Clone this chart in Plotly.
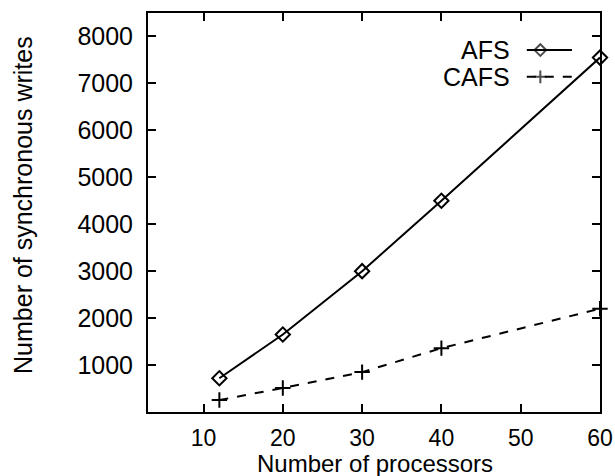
import plotly.graph_objects as go

processors = [12, 20, 30, 40, 60]
afs_writes = [720, 1650, 3000, 4500, 7550]
cafs_writes = [255, 510, 850, 1360, 2200]
x_ticks = [10, 20, 30, 40, 50, 60]
y_ticks = [1000, 2000, 3000, 4000, 5000, 6000, 7000, 8000]
series_names = ["AFS", "CAFS"]
x_title = "Number of processors"
y_title = "Number of synchronous writes"

FONT = "Liberation Sans, Arial, Helvetica, sans-serif"
FS = 25

def f(size=FS):
    return dict(family=FONT, size=size, color="black")

fig = go.Figure()
fig.add_trace(go.Scatter(
    x=processors, y=afs_writes, mode="lines+markers", name=series_names[0],
    line=dict(color="black", width=2, dash="solid"),
    marker=dict(symbol="diamond-open", size=11, color="black", line=dict(width=2)),
    showlegend=False, cliponaxis=False,
))
fig.add_trace(go.Scatter(
    x=processors, y=cafs_writes, mode="lines+markers", name=series_names[1],
    line=dict(color="black", width=2, dash="dash"),
    marker=dict(symbol="cross-thin-open", size=11, color="black", line=dict(width=2, color="black")),
    showlegend=False, cliponaxis=False,
))

# legend keys (gnuplot style: text on the left, sample on the right)
key_rows = [0.907, 0.84]
key_styles = [("solid", "diamond-open"), ("dash", "cross-thin-open")]
for name, ky, (dash, sym) in zip(series_names, key_rows, key_styles):
    fig.add_trace(go.Scatter(
        x=[0.838, 0.868, 0.938], y=[ky, ky, ky], xaxis="x2", yaxis="y2",
        mode="lines+markers", showlegend=False, hoverinfo="skip",
        line=dict(color="black", width=2, dash=dash),
        marker=dict(symbol=sym, size=[0, 9, 0], color="black",
                    line=dict(width=2, color="black")),
    ))
    fig.add_annotation(x=0.805, y=ky, xref="x2", yref="y2", text=name,
                       showarrow=False, xanchor="right", yanchor="middle",
                       font=f())

# axis titles
fig.add_annotation(x=0.502, y=-0.128, xref="paper", yref="paper", text=x_title,
                   showarrow=False, xanchor="center", yanchor="middle", font=f(24))
fig.add_annotation(x=-0.2765, y=0.519, xref="paper", yref="paper", text=y_title,
                   textangle=-90, showarrow=False, xanchor="center", yanchor="middle",
                   font=f())

axis_common = dict(
    showgrid=False, zeroline=False, showline=True, linecolor="black", linewidth=2,
    mirror="ticks", ticks="inside", ticklen=8, tickwidth=2, tickcolor="black",
    automargin=False,
)
fig.update_layout(
    width=615, height=476,
    margin=dict(l=148, r=15, t=13, b=64),
    paper_bgcolor="white", plot_bgcolor="white",
    xaxis=dict(range=[3, 60], tickvals=x_ticks, ticklabelstandoff=4, tickfont=f(23),
               **axis_common),
    yaxis=dict(range=[0, 8500], tickvals=y_ticks, ticklabelstandoff=8, tickfont=f(),
               **axis_common),
    xaxis2=dict(range=[0, 1], overlaying="x", visible=False, fixedrange=True),
    yaxis2=dict(range=[0, 1], overlaying="y", visible=False, fixedrange=True),
)

fig.write_html("out.html")
